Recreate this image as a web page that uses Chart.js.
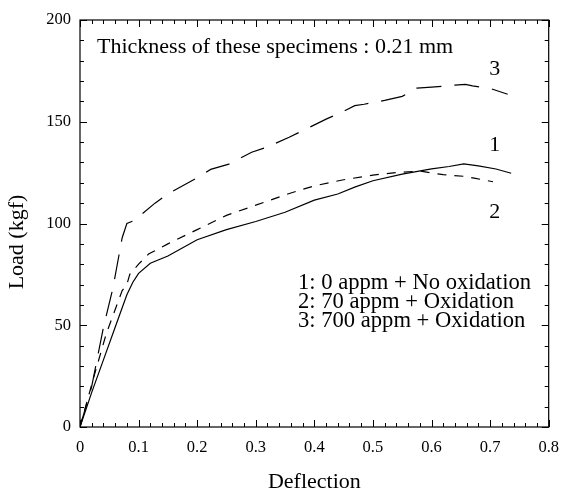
<!DOCTYPE html>
<html>
<head>
<meta charset="utf-8">
<script src="https://cdn.jsdelivr.net/npm/chart.js@4.4.1/dist/chart.umd.min.js"></script>
<style>
  html, body { margin: 0; padding: 0; background: #fff; }
  canvas { display: block; }
</style>
</head>
<body>
<canvas id="c" width="570" height="490"></canvas>
<script>
// ---- data ----
const seriesNames = ["1: 0 appm + No oxidation", "2: 70 appm + Oxidation", "3: 700 appm + Oxidation"];
const curveTags = ["1", "2", "3"];

const x1 = [0, 0.02, 0.04, 0.06, 0.08, 0.09, 0.1, 0.12, 0.15, 0.2, 0.25, 0.3, 0.35, 0.4, 0.44, 0.47, 0.5, 0.55, 0.6, 0.63, 0.655, 0.68, 0.71, 0.736];
const y1 = [0, 17, 33, 49, 65, 71, 75.5, 80.5, 84, 92, 97, 101, 105.5, 111.5, 114.5, 118, 121, 124.3, 126.8, 128, 129.3, 128.3, 126.8, 124.7];

const x2 = [0, 0.022, 0.045, 0.072, 0.08, 0.085, 0.1, 0.117, 0.15, 0.2, 0.25, 0.3, 0.36, 0.4, 0.45, 0.5, 0.54, 0.58, 0.6, 0.62, 0.655, 0.675, 0.705];
const y2 = [0, 23, 46, 67, 70, 75, 80, 85, 90, 97, 104, 109, 115, 118.5, 121.5, 123.8, 125, 125.8, 124.8, 124, 123.2, 122.2, 120.5];

const x3 = [0, 0.02, 0.04, 0.056, 0.072, 0.08, 0.095, 0.103, 0.128, 0.15, 0.2, 0.223, 0.254, 0.293, 0.318, 0.357, 0.382, 0.421, 0.446, 0.469, 0.485, 0.52, 0.55, 0.575, 0.6, 0.64, 0.658, 0.67, 0.7, 0.73];
const y3 = [0, 20, 49, 68, 93, 100, 101.7, 104, 110, 114.5, 122.5, 126.6, 129.2, 135, 137.4, 142.4, 145.9, 151.4, 154.6, 157.9, 158.6, 160.5, 162.5, 166.5, 167, 168, 168.4, 167.6, 166.4, 163.5];

// curve tag anchors (data coordinates)
const tagX = [0.708, 0.708, 0.708];
const tagY = [138.3, 105.4, 175.9];

const xTickValues = [0, 0.1, 0.2, 0.3, 0.4, 0.5, 0.6, 0.7, 0.8];
const yTickValues = [0, 50, 100, 150, 200];

const titleText = "Thickness of these specimens : 0.21 mm";
const xTitle = "Deflection";
const yTitle = "Load (kgf)";

// ---- build ----
function pts(xs, ys) { return xs.map((x, i) => ({ x: x, y: ys[i] })); }
const SERIF = "'Liberation Serif', 'DejaVu Serif', serif";

const framePlugin = {
  id: 'frame',
  afterDraw(chart) {
    const ctx = chart.ctx;
    const xs = chart.scales.x, ys = chart.scales.y;
    const L = xs.left, R = xs.right, T = ys.top, B = ys.bottom;
    ctx.save();
    ctx.strokeStyle = '#000';
    ctx.lineWidth = 1.2;
    ctx.strokeRect(L, T, R - L, B - T);
    // inward ticks on all four sides
    ctx.lineWidth = 1;
    ctx.beginPath();
    for (let i = 0; i <= 40; i++) {
      const v = i * 0.02;
      const px = Math.round(xs.getPixelForValue(v)) + 0.5;
      const len = (i % 5 === 0) ? 7 : 4;
      ctx.moveTo(px, B); ctx.lineTo(px, B - len);
      ctx.moveTo(px, T); ctx.lineTo(px, T + len);
    }
    for (let i = 0; i <= 20; i++) {
      const v = i * 10;
      const py = Math.round(ys.getPixelForValue(v)) + 0.5;
      const len = (i % 5 === 0) ? 7 : 4;
      ctx.moveTo(L, py); ctx.lineTo(L + len, py);
      ctx.moveTo(R, py); ctx.lineTo(R - len, py);
    }
    ctx.stroke();

    ctx.fillStyle = '#000';
    ctx.font = '22px ' + SERIF;
    // title inside plot
    ctx.textAlign = 'left';
    ctx.textBaseline = 'alphabetic';
    ctx.fillText(titleText, 97, 53);
    // legend text
    ctx.font = '22.6px ' + SERIF;
    const lx = 298;
    const lb = [289, 308, 327];
    seriesNames.forEach((s, i) => ctx.fillText(s, lx, lb[i]));
    // curve tags
    ctx.font = '22px ' + SERIF;
    ctx.textAlign = 'center';
    ctx.textBaseline = 'middle';
    curveTags.forEach((t, i) => {
      ctx.fillText(t, xs.getPixelForValue(tagX[i]), ys.getPixelForValue(tagY[i]));
    });
    // axis titles
    ctx.fillText(xTitle, (L + R) / 2, 482);
    ctx.save();
    ctx.translate(17, 242);
    ctx.rotate(-Math.PI / 2);
    ctx.fillText(yTitle, 0, 0);
    ctx.restore();
    ctx.restore();
  }
};

const lineCommon = {
  borderColor: '#000',
  borderWidth: 1.2,
  pointRadius: 0,
  fill: false,
  tension: 0,
  showLine: true
};

new Chart(document.getElementById('c'), {
  type: 'scatter',
  data: {
    datasets: [
      Object.assign({ label: seriesNames[0], data: pts(x1, y1) }, lineCommon),
      Object.assign({ label: seriesNames[1], data: pts(x2, y2), borderDash: [9, 8] }, lineCommon),
      Object.assign({ label: seriesNames[2], data: pts(x3, y3), borderDash: [25, 13] }, lineCommon)
    ]
  },
  options: {
    responsive: false,
    animation: false,
    devicePixelRatio: 1,
    layout: { padding: { left: 0, right: 12, top: 20, bottom: 0 } },
    plugins: { legend: { display: false }, tooltip: { enabled: false }, title: { display: false } },
    scales: {
      x: {
        type: 'linear', min: 0, max: 0.8,
        afterBuildTicks: (s) => { s.ticks = xTickValues.map(v => ({ value: v })); },
        ticks: {
          color: '#000', font: { family: SERIF, size: 16.5 }, padding: 11,
          maxRotation: 0,
          callback: (v) => (v === 0 ? '0' : String(Math.round(v * 10) / 10))
        },
        grid: { drawOnChartArea: false, drawTicks: false },
        border: { display: false },
        afterFit: (s) => { s.height = 63; }
      },
      y: {
        type: 'linear', min: 0, max: 200,
        afterBuildTicks: (s) => { s.ticks = yTickValues.map(v => ({ value: v })); },
        ticks: { color: '#000', font: { family: SERIF, size: 16.5 }, padding: 9 },
        grid: { drawOnChartArea: false, drawTicks: false },
        border: { display: false },
        afterFit: (s) => { s.width = 80; }
      }
    }
  },
  plugins: [framePlugin]
});
</script>
</body>
</html>
